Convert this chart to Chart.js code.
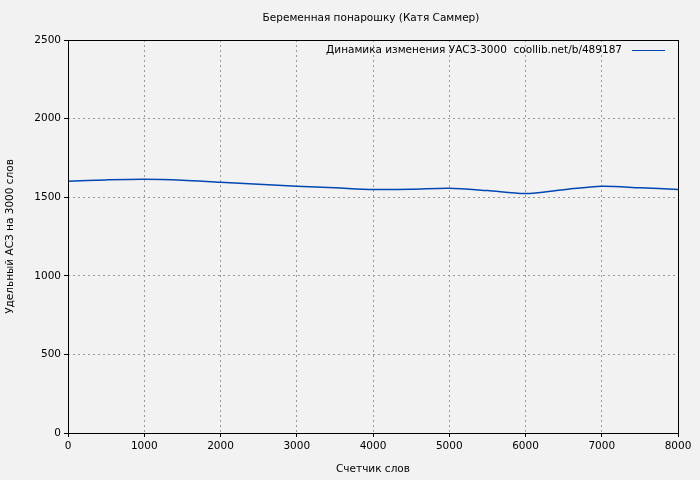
<!DOCTYPE html>
<html>
<head>
<meta charset="utf-8">
<script src="https://cdn.jsdelivr.net/npm/chart.js@4"></script>
<style>
  body { margin: 0; background: #f2f2f2; }
  #wrap { width: 700px; height: 480px; }
</style>
</head>
<body>
<div id="wrap"><canvas id="myChart"></canvas></div>
<script>
// data
const words = [0, 500, 1000, 1500, 2000, 2500, 3000, 3500, 4000, 4500, 5000, 5500, 6000, 6500, 7000, 7500, 8000];
const uasz = [1602, 1610, 1614, 1608, 1595, 1583, 1570, 1560, 1549, 1550, 1557, 1542, 1523, 1548, 1570, 1560, 1549];
const titleText = "Беременная понарошку (Катя Саммер)";
const legendText = "Динамика изменения УАСЗ-3000  coollib.net/b/489187";
const font = "DejaVu Sans";

// title, frame and legend drawn like gnuplot does
const extras = {
  id: "extras",
  afterDraw(chart) {
    const c = chart.ctx, a = chart.chartArea;
    c.save();
    c.strokeStyle = "#000";
    c.lineWidth = 1;
    c.strokeRect(a.left + 0.5, a.top + 0.5, a.right - a.left, a.bottom - a.top);
    c.fillStyle = "#000";
    c.font = "10.5px '" + font + "'";
    c.textAlign = "center";
    c.textBaseline = "middle";
    c.fillText(titleText, 371, 18);
    c.textAlign = "right";
    c.fillText(legendText, 622, 50);
    c.strokeStyle = "#0047b3";
    c.beginPath();
    c.moveTo(632, 50.5);
    c.lineTo(665, 50.5);
    c.stroke();
    c.restore();
  }
};

const ctx = document.getElementById("myChart").getContext("2d");
new Chart(ctx, {
  type: "line",
  data: {
    datasets: [{
      data: words.map((w, i) => ({ x: w, y: uasz[i] })),
      borderColor: "#0047b3",
      borderWidth: 1.5,
      pointRadius: 0,
      tension: 0.3
    }]
  },
  options: {
    responsive: true,
    maintainAspectRatio: false,
    animation: false,
    layout: { padding: { top: 40, right: 22 } },
    plugins: { legend: { display: false }, tooltip: { enabled: false } },
    scales: {
      x: {
        type: "linear", min: 0, max: 8000,
        afterFit: (s) => { s.height = 47; },
        ticks: { stepSize: 1000, color: "#000", font: { family: font, size: 10.5 }, maxRotation: 0, callback: (v) => String(v) },
        grid: { color: "#999", tickLength: 4, tickColor: "#000" },
        border: { display: false, dash: [2, 3] },
        title: { display: true, text: "Счетчик слов", color: "#000", font: { family: font, size: 10.5 } }
      },
      y: {
        min: 0, max: 2500,
        afterFit: (s) => { s.width = 68; },
        ticks: { stepSize: 500, color: "#000", font: { family: font, size: 10.5 }, callback: (v) => String(v) },
        grid: { color: "#999", tickLength: 4, tickColor: "#000" },
        border: { display: false, dash: [2, 3] },
        title: { display: true, text: "Удельный АСЗ на 3000 слов", color: "#000", font: { family: font, size: 10.5 } }
      }
    }
  },
  plugins: [extras]
});
</script>
</body>
</html>
